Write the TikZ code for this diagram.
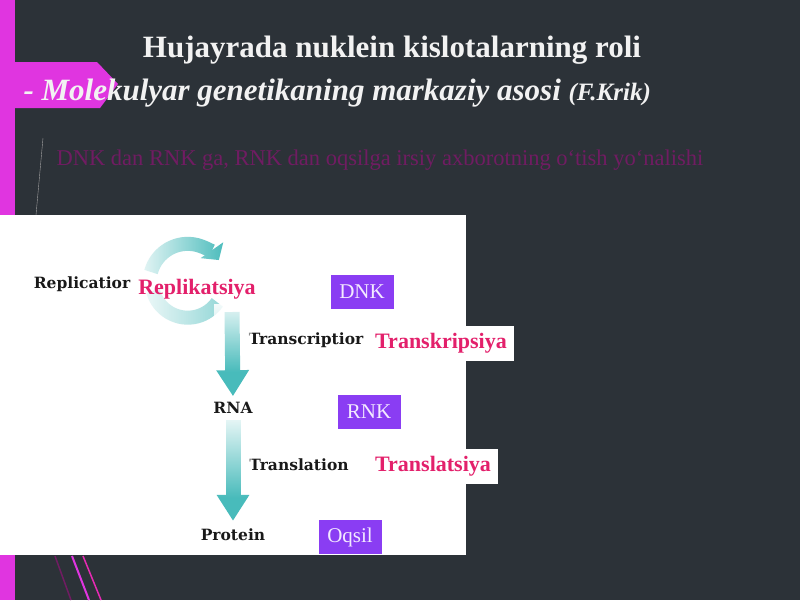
\documentclass[tikz,border=0pt]{standalone}
\usepackage{fontspec}
\setmainfont{Liberation Serif}
\newfontfamily\figfont{DejaVu Serif}
\usetikzlibrary{positioning}
\usetikzlibrary{arrows.meta}
\usetikzlibrary{fadings}

\definecolor{slidebg}{HTML}{2C3238}
\definecolor{barpink}{HTML}{E035E0}
\definecolor{flowteal}{HTML}{48BBBB}
\definecolor{uzpink}{HTML}{E3206B}
\definecolor{boxviolet}{HTML}{8A3DF3}
\definecolor{boxtext}{HTML}{F3EAFF}
\definecolor{faintpink}{HTML}{701C62}

\tikzfading[name=washdown, top color=transparent!12, bottom color=transparent!100]
\tikzfading[name=washright, left color=transparent!8, right color=transparent!100]

\begin{document}
\begin{tikzpicture}[x=1pt, y=1pt,
    engl/.style={font=\figfont\bfseries\fontsize{15.5}{18}\selectfont, text=black!90, inner sep=2pt},
    uzlabel/.style={font=\bfseries\fontsize{22}{26}\selectfont, text=uzpink, inner sep=0pt},
    uzbox/.style={uzlabel, fill=white, minimum height=35pt},
    vbox/.style={fill=boxviolet, text=boxtext, font=\fontsize{21}{24}\selectfont,
        minimum width=63pt, minimum height=34pt, inner sep=0pt},
    flowarrow/.style={draw=flowteal, line width=15pt, -{Triangle[width=31pt,length=26pt]}},
    looparrow/.style={draw=flowteal, line width=14pt, -{Triangle[width=27pt,length=12pt]}}]
    \useasboundingbox (0,0) rectangle (800,-600);
    \fill[slidebg] (0,0) rectangle (800,-600);

    % theme decoration
    \fill[barpink] (0,0) rectangle (15,-600);
    \fill[barpink] (15,-62) -- (97,-62) -- (118,-84) -- (100,-108) -- (15,-108) -- cycle;
    \draw[gray!70, thin] (43,-138) -- (36,-215);
    \draw[faintpink, line width=1.5pt] (55,-556) -- (71,-600);
    \draw[barpink, line width=2pt] (72,-556) -- (89,-600);
    \draw[barpink!80!red, line width=1.5pt] (83,-556) -- (101,-600);

    % headings
    \node[text=white!95!black, font=\bfseries\fontsize{31}{34}\selectfont] (title) at (392,-50)
        {Hujayrada nuklein kislotalarning roli};
    \node[anchor=west, text=white!95!black, font=\bfseries\itshape\fontsize{31}{34}\selectfont] (subtitle) at (20,-93)
        {- Molekulyar genetikaning markaziy asosi {\fontsize{25}{28}\selectfont(F.Krik)}};
    \node[anchor=west, text=faintpink, font=\fontsize{22.5}{26}\selectfont] (faint) at (53,-160)
        {DNK dan RNK ga, RNK dan oqsilga irsiy axborotning o`tish yo`nalishi};

    % picture panel
    \fill[white] (0,-215) rectangle (466,-555);

    % loop and arrows
    \coordinate (looptop) at (151,-272);
    \coordinate (loopbot) at (153,-291);
    \coordinate (stemtop) at (232,-312);
    \draw[looparrow] (looptop) arc[start angle=165, end angle=35, radius=38];
    \draw[draw=flowteal!60, line width=14pt] (loopbot) arc[start angle=195, end angle=325, radius=36];

    \node[engl] (repl) at (82,-284) {Replicatior};
    \node[engl] (transc) at (306,-340) {Transcriptior};
    \node[engl] (rna) at (233,-408) {RNA};
    \node[engl] (transl) at (299,-465) {Translation};
    \node[engl] (protein) at (233,-535) {Protein};

    \draw[flowarrow, shorten >=4pt] (stemtop) -- (rna.north);
    \draw[flowarrow, shorten <=4pt, shorten >=6pt] (rna.south) -- (protein.north);

    % white wash for the colour gradients
    \fill[white, path fading=washright] (136,-226) rectangle (226,-336);
    \fill[white, path fading=washdown] (214,-304) rectangle (252,-372);
    \fill[white, path fading=washdown] (214,-418) rectangle (252,-498);

    \node[uzlabel] (replik) at (197,-289) {Replikatsiya};
    \node[uzbox, minimum width=146pt] (transk) at (441,-343) {Transkripsiya};
    \node[uzbox, minimum width=130pt] (translz) at (433,-466) {Translatsiya};

    \foreach \n/\x/\y/\t in {dnk/362/-292/DNK, rnk/369/-412/RNK, oqsil/350/-537/Oqsil}
        \node[vbox] (\n) at (\x,\y) {\t};
\end{tikzpicture}
\end{document}
